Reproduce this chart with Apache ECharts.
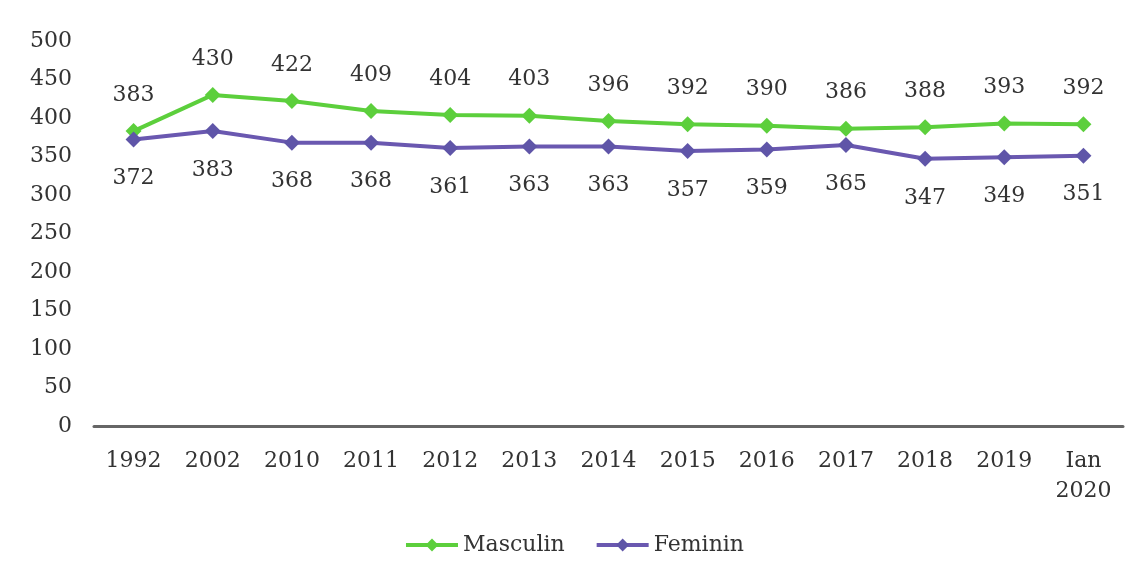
<!DOCTYPE html>
<html lang="ro">
<head>
    <meta charset="UTF-8">
    <title>Masculin / Feminin</title>
    <script src="https://cdn.jsdelivr.net/npm/echarts@6/dist/echarts.min.js"></script>
    <style>
        html, body { margin: 0; padding: 0; background: #fff; }
        #main { width: 1148px; height: 578px; }
    </style>
</head>
<body>
<div id="main"></div>
<script>
    var categories = ['1992', '2002', '2010', '2011', '2012', '2013', '2014', '2015', '2016', '2017', '2018', '2019', 'Ian\n2020'];
    var masculin = [383, 430, 422, 409, 404, 403, 396, 392, 390, 386, 388, 393, 392];
    var feminin = [372, 383, 368, 368, 361, 363, 363, 357, 359, 365, 347, 349, 351];

    var font = 'DejaVu Serif';
    var myChart = echarts.init(document.getElementById('main'));

    var option = {
        animation: false,
        textStyle: { fontFamily: font },
        grid: { left: 94, right: 25, top: 41, bottom: 152 },
        legend: {
            bottom: 17,
            left: 'center',
            itemWidth: 52,
            itemHeight: 16,
            itemGap: 30,
            lineStyle: { width: 4 },
            textStyle: { fontFamily: font, fontSize: 22, color: '#333' },
            data: ['Masculin', 'Feminin']
        },
        xAxis: {
            type: 'category',
            data: categories,
            axisLine: { lineStyle: { color: '#666', width: 3 } },
            axisTick: { show: false },
            axisLabel: { fontFamily: font, fontSize: 22, color: '#333', margin: 20, lineHeight: 30 }
        },
        yAxis: {
            type: 'value',
            min: 0,
            max: 500,
            interval: 50,
            splitLine: { show: false },
            axisLine: { show: false },
            axisLabel: { fontFamily: font, fontSize: 22, color: '#333', margin: 22 }
        },
        series: [
            {
                name: 'Masculin',
                type: 'line',
                data: masculin,
                symbol: 'diamond',
                symbolSize: 16,
                lineStyle: { color: '#5ccf3c', width: 4 },
                itemStyle: { color: '#5ccf3c' },
                label: { show: true, position: 'top', distance: 17, fontFamily: font, fontSize: 22, color: '#333' }
            },
            {
                name: 'Feminin',
                type: 'line',
                data: feminin,
                symbol: 'diamond',
                symbolSize: 16,
                lineStyle: { color: '#6a58b0', width: 4 },
                itemStyle: { color: '#5f55a8' },
                label: { show: true, position: 'bottom', distance: 20, fontFamily: font, fontSize: 22, color: '#333' }
            }
        ]
    };

    myChart.setOption(option);
</script>
</body>
</html>
